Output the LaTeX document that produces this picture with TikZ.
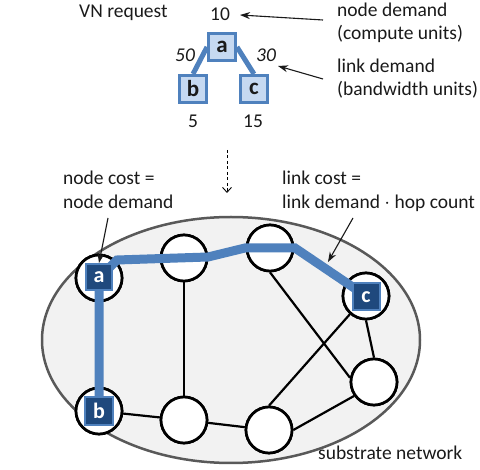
\documentclass[tikz,border=0pt]{standalone}
\usepackage{fontspec}
\setmainfont{Carlito}
\usetikzlibrary{arrows.meta}
\definecolor{linkblue}{HTML}{4F81BD}
\definecolor{vnfill}{HTML}{C6D9F1}
\definecolor{hostfill}{HTML}{1F497D}
\definecolor{plane}{HTML}{F2F2F2}
\definecolor{rim}{HTML}{595959}
\definecolor{ink}{HTML}{1A1A1A}
\begin{document}
\begin{tikzpicture}[x=1pt,y=-1pt,
  font=\fontsize{19.5}{22}\selectfont, text=ink,
  vn/.style={draw=linkblue, fill=vnfill, line width=3pt, minimum size=27pt,
    inner sep=0pt, font=\fontsize{23}{23}\selectfont\bfseries},
  host/.style={draw=linkblue, fill=hostfill, line width=2pt, minimum size=26pt,
    inner sep=0pt, text=white, font=\fontsize{22}{22}\selectfont\bfseries},
  sub/.style={circle, draw=black, fill=white, line width=2.7pt,
    minimum size=46pt, inner sep=0pt},
  edge/.style={draw=black, line width=2.2pt},
  vnlink/.style={draw=linkblue, line width=5pt},
  route/.style={draw=linkblue, line width=9pt, line join=miter},
  callout/.style={-{Stealth[length=10pt,width=7pt]}, line width=1.1pt, draw=ink},
  txt/.style={anchor=base west, inner sep=0pt}
]
\useasboundingbox (0,0) rectangle (480,470);

% ---- virtual network request ----
\node[txt] (vnreq) at (79,18) {VN request};
\node[txt] (dema) at (210,21) {10};
\node[txt] (demb) at (188,128) {5};
\node[txt] (demc) at (243,128) {15};
\node[txt, font=\fontsize{19.5}{22}\selectfont\itshape] (bwab) at (175,62) {50};
\node[txt, font=\fontsize{19.5}{22}\selectfont\itshape] (bwac) at (256,62) {30};

\coordinate (vaP) at (222,47);
\coordinate (vbP) at (193,89);
\coordinate (vcP) at (254,89);
\node[vn] (va) at (vaP) {};
\node[vn] (vb) at (vbP) {};
\node[vn] (vc) at (vcP) {};
\draw[vnlink] (va.west) -- (vb.north);
\draw[vnlink] (va.east) -- (vc.north);
\node[vn] at (vaP) {a};
\node[vn] at (vbP) {b};
\node[vn] at (vcP) {c};

\node[txt] (nd1) at (337,17) {node demand};
\node[txt] (nd2) at (337,40) {(compute units)};
\node[txt] (ld1) at (337,73) {link demand};
\node[txt] (ld2) at (337,96) {(bandwidth units)};
\coordinate (ndFrom) at (323,20);
\coordinate (ndTo) at (240,15);
\coordinate (ldFrom) at (323,79);
\coordinate (ldTo) at (278,66);
\draw[callout] (ndFrom) -- (ndTo);
\draw[callout] (ldFrom) -- (ldTo);

% mapping arrow
\coordinate (mapFrom) at (227,150);
\coordinate (mapTo) at (227,193);
\draw[line width=0.9pt, dash pattern=on 3pt off 2.5pt,
  -{Straight Barb[length=5pt,width=9pt]}] (mapFrom) -- (mapTo);

% ---- substrate network ----
\node[txt] (nc1) at (63,185) {node cost =};
\node[txt] (nc2) at (63,209) {node demand};
\node[txt] (lc1) at (282,185) {link cost =};
\node[txt] (lc2) at (282,209) {link demand $\cdot$ hop count};

\filldraw[fill=plane, draw=rim, line width=2.5pt] (231,340) ellipse [x radius=189pt, y radius=123pt];

\node[sub] (s1) at (99,278) {};
\node[sub] (s2) at (184,258) {};
\node[sub] (s3) at (270,248) {};
\node[sub] (s4) at (366,296) {};
\node[sub] (s5) at (374,382) {};
\node[sub] (s6) at (269,430) {};
\node[sub] (s7) at (184,420) {};
\node[sub] (s8) at (99,411) {};

% substrate links, then the nodes again on top of them
\draw[edge] (s8) -- (s7);
\draw[edge] (s7) -- (s6);
\draw[edge] (s6.east) -- (s5.215);
\draw[edge] (s2) -- (s7);
\draw[edge] (s3.south) -- (s5.170);
\draw[edge] (s6.north) -- (s4);
\draw[edge] (s4.south) -- (s5.north);
\foreach \p in {{99,278}, {184,258}, {270,248}, {366,296},
                {374,382}, {269,430}, {184,420}, {99,411}}
  \node[sub] at (\p) {};

% embedded route of the virtual links
\coordinate (r1) at (117,260);
\coordinate (r2) at (208,257);
\coordinate (r3) at (245,248);
\coordinate (r4) at (295,248);
\draw[route] (s8.center) -- (s1.center) -- (r1) -- (r2) -- (r3) -- (r4) -- (s4.center);

\node[host] (ha) at (99,277) {a};
\node[host, minimum size=28pt] (hb) at (99,411) {b};
\node[host, minimum size=27pt] (hc) at (366,297) {c};

\coordinate (ncFrom) at (108,218);
\coordinate (lcFrom) at (353,218);
\coordinate (lcTo) at (328,262);
\draw[callout] (ncFrom) -- (ha.north);
\draw[callout] (lcFrom) -- (lcTo);

\node[txt] (subnet) at (318,460) {substrate network};
\end{tikzpicture}
\end{document}
